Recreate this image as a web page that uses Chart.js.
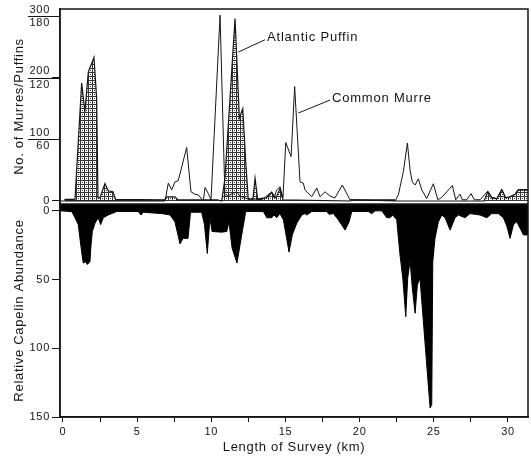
<!DOCTYPE html>
<html>
<head>
<meta charset="utf-8">
<script src="https://cdn.jsdelivr.net/npm/chart.js@4.4.1/dist/chart.umd.min.js"></script>
<style>
  html, body { margin: 0; padding: 0; background: #fff; }
  #wrap { position: relative; width: 531px; height: 460px; }
  #top { position: absolute; left: 0; top: 0; width: 531px; height: 204px; }
  #bot { position: absolute; left: 0; top: 204px; width: 531px; height: 256px; }
</style>
</head>
<body>
<div id="wrap">
  <div id="top"><canvas id="birds"></canvas></div>
  <div id="bot"><canvas id="capelin"></canvas></div>
</div>
<script>
// survey distance (km) and counts
const murreKm = [-0.2, 6.88, 7.10, 7.33, 7.55, 7.77, 8.34, 8.63, 8.90, 9.12, 9.46, 9.58, 9.80, 9.98, 10.59, 10.92, 11.26, 11.71, 11.94, 12.49,
  12.95, 13.42, 14.07, 14.23, 14.41, 14.63, 14.83, 15.02, 15.38, 15.62, 15.98, 16.20, 16.32, 16.77, 17.11, 17.33, 17.67, 18.00, 18.34, 18.83,
  19.35, 22.39, 22.61, 22.95, 23.22, 23.40, 23.55, 23.74, 23.96, 24.19, 24.52, 24.97, 25.27, 25.54, 26.25, 26.48, 26.77, 26.92, 27.22, 27.51,
  27.73, 28.12, 28.64, 28.91, 29.25, 29.58, 29.85, 30.14, 30.48, 30.70, 31.35];
const murreCount = [0, 0, 29, 18, 31, 33, 87, 15, 11, 10, 0, 22, 12, 2, 302, 7, 10, 15, 8, 3,
  3, 2, 15, 5, 18, 23, 5, 95, 72, 186, 31, 29, 18, 7, 21, 7, 15, 8, 5, 26,
  2, 0, 10, 48, 94, 50, 31, 26, 36, 18, 4, 28, 2, 6, 25, 2, 11, 2, 2, 12,
  2, 2, 16, 6, 4, 19, 5, 7, 11, 18, 18];

const puffinKm = [0.10, 0.81, 1.26, 1.48, 1.71, 2.09, 2.27, 2.36, 2.49, 2.83, 3.05, 3.37, 3.55, 6.85, 7.00, 7.55, 7.75, 10.40, 10.70, 10.92,
  11.60, 11.89, 12.12, 12.32, 12.49, 12.81, 12.95, 13.12, 13.69, 14.09, 14.36, 14.63, 14.83, 19.35, 19.40, 22.35, 22.40, 28.39, 28.64, 28.91,
  29.25, 29.58, 29.85, 30.14, 30.48, 30.70, 31.35];
const puffinCount = [1.5, 1.5, 115, 87, 126, 140, 100, 3, 3, 17, 10, 9, 1.5, 1, 4, 4, 1, 1, 0, 22,
  178, 81, 90, 38, 2, 2, 22, 2, 3, 8, 3, 12, 1, 0, 1.2, 1.2, 0, 0, 9, 3,
  2, 11, 3, 4, 6.6, 11, 11];

const capelinKm = [-0.2, 0.59, 0.81, 1.03, 1.26, 1.37, 1.53, 1.64, 1.82, 1.89,
  1.98, 2.16, 2.38, 2.54, 2.72, 3.05, 3.62, 5.08, 5.26, 5.41,
  6.66, 7.22, 7.55, 7.89, 8.09, 8.43, 8.60, 9.35, 9.54, 9.73,
  9.91, 10.05, 10.70, 11.04, 11.19, 11.40, 11.73, 12.05, 12.32, 13.51,
  13.74, 14.07, 14.23, 14.41, 14.63, 14.86, 15.08, 15.24, 15.46, 15.76,
  16.10, 16.32, 16.43, 16.77, 17.78, 17.94, 18.23, 18.56, 19.02, 19.29,
  19.47, 20.59, 20.82, 21.04, 21.49, 21.83, 22.05, 22.23, 22.50, 22.72,
  22.91, 23.11, 23.24, 23.40, 23.55, 23.74, 23.89, 24.07, 24.75, 24.86,
  24.93, 25.08, 25.31, 25.54, 25.76, 26.10, 26.43, 26.66, 27.11, 27.44,
  28.12, 28.57, 28.91, 29.35, 29.69, 29.92, 30.14, 30.37, 30.59, 30.82,
  31.04, 31.35];
const capelinAbund = [0, 0.5, 5, 10, 30, 38, 37, 39, 37, 25,
  15, 9, 5, 10, 5, 3, 0.5, 0.5, 3, 1,
  2, 3, 8, 24, 20, 20, 1, 1, 10, 31,
  5, 15, 15.5, 15, 8, 27, 38, 17.5, 0.5, 0.5,
  5, 5, 3, 5, 2, 6.5, 20, 30, 17.5, 9,
  3, 2, 3, 0.5, 0.5, 2.5, 2, 6.5, 14, 8,
  0.5, 0.5, 2, 0, 0, 5, 5, 3, 6.5, 32,
  49, 77, 49, 36, 56, 74.5, 54, 49, 143.5, 141,
  37, 20, 8, 3, 5, 14, 5, 3, 5, 2,
  3, 5, 2, 2, 5, 11, 20, 10, 8, 12.6,
  17.5, 17.5];

const murreTicks = [0, 100, 200, 300];
const puffinTickLabels = ['0', '60', '120', '180'];
const capelinTicks = [0, 50, 100, 150];
const kmTicks = [0, 2.5, 5, 7.5, 10, 12.5, 15, 17.5, 20, 22.5, 25, 27.5, 30];

const kmMin = -0.2, kmMax = 31.35;
const birdMin = -4.9, birdMax = 312;
const puffinPerMurre = 180 / 300;
const capMin = -5, capMax = 150;

const ink = '#151515';
const fontFamily = '"Liberation Sans", Arial, sans-serif';

function hatchPattern() {
  const c = document.createElement('canvas');
  c.width = 4; c.height = 4;
  const g = c.getContext('2d');
  g.fillStyle = '#fff';
  g.fillRect(0, 0, 4, 4);
  g.fillStyle = '#333';
  g.fillRect(0, 0, 4, 1);
  g.fillRect(0, 0, 1, 4);
  g.fillRect(2, 2, 1, 1);
  return g.createPattern(c, 'repeat');
}

function pts(xs, ys) {
  return xs.map((x, i) => ({ x: x, y: ys[i] }));
}

// axes keep a fixed box so both panels line up and meet at the black band
function fixWidth(s) {
  s.width = 60;
  s.paddingTop = 0;
  s.paddingBottom = 0;
}
function fixHeight(s) {
  s.height = 43;
  s.paddingLeft = 0;
  s.paddingRight = 0;
}

// wider letter spacing like the lettering of the original
const spacing = {
  id: 'spacing',
  beforeDraw(chart) { chart.ctx.letterSpacing = '0.7px'; }
};

const frame = {
  id: 'frame',
  afterDraw(chart) {
    const a = chart.chartArea, ctx = chart.ctx;
    ctx.save();
    ctx.strokeStyle = ink;
    ctx.lineWidth = 1.5;
    ctx.strokeRect(a.left, a.top, a.right - a.left, a.bottom - a.top);
    ctx.restore();
  }
};

// rule between murre and puffin numbers on the left axis
const fractionRule = {
  id: 'fractionRule',
  afterDraw(chart) {
    const s = chart.scales.y, ctx = chart.ctx;
    ctx.save();
    ctx.strokeStyle = ink;
    ctx.lineWidth = 1;
    murreTicks.forEach(v => {
      if (v === 0) return;
      const y = Math.round(s.getPixelForValue(v)) + 0.5;
      ctx.beginPath();
      ctx.moveTo(28, y);
      ctx.lineTo(s.right, y);
      ctx.stroke();
    });
    ctx.restore();
  }
};

const notes = [
  { text: 'Atlantic Puffin', from: [11.82, 242], to: [13.62, 262] },
  { text: 'Common Murre', from: [15.87, 143], to: [18.0, 164] }
];

const speciesLabels = {
  id: 'speciesLabels',
  afterDatasetsDraw(chart) {
    const x = chart.scales.x, y = chart.scales.y, ctx = chart.ctx;
    ctx.save();
    ctx.strokeStyle = ink;
    ctx.fillStyle = ink;
    ctx.lineWidth = 1;
    ctx.font = '13px ' + fontFamily;
    ctx.letterSpacing = '0.8px';
    ctx.textBaseline = 'middle';
    notes.forEach(n => {
      const x0 = x.getPixelForValue(n.from[0]), y0 = y.getPixelForValue(n.from[1]);
      const x1 = x.getPixelForValue(n.to[0]), y1 = y.getPixelForValue(n.to[1]);
      ctx.beginPath();
      ctx.moveTo(x0, y0);
      ctx.lineTo(x1, y1);
      ctx.stroke();
      ctx.fillText(n.text, x1 + 2, y1 - 2);
    });
    ctx.restore();
  }
};

Chart.defaults.font.family = fontFamily;
Chart.defaults.color = ink;

new Chart(document.getElementById('birds'), {
  type: 'line',
  data: {
    datasets: [
      {
        label: 'Common Murre',
        data: pts(murreKm, murreCount),
        yAxisID: 'y',
        borderColor: ink,
        borderWidth: 1,
        pointRadius: 0,
        tension: 0,
        fill: false
      },
      {
        label: 'Atlantic Puffin',
        data: pts(puffinKm, puffinCount),
        yAxisID: 'yp',
        borderColor: ink,
        borderWidth: 1.2,
        backgroundColor: hatchPattern(),
        pointRadius: 0,
        tension: 0,
        fill: 'origin'
      }
    ]
  },
  options: {
    responsive: true,
    maintainAspectRatio: false,
    animation: false,
    layout: { padding: { top: 9, right: 3, left: 0, bottom: 0 } },
    plugins: { legend: { display: false }, tooltip: { enabled: false } },
    scales: {
      x: { type: 'linear', min: kmMin, max: kmMax, display: false },
      y: {
        min: birdMin,
        max: birdMax,
        afterFit: fixWidth,
        afterBuildTicks: s => { s.ticks = murreTicks.map(v => ({ value: v })); },
        ticks: {
          callback: (v, i) => v === 0 ? '0' : [String(v), puffinTickLabels[i]],
          font: { size: 11 },
          padding: 2
        },
        grid: { drawOnChartArea: false, tickLength: 8, color: ink },
        border: { color: ink, width: 1.5 },
        title: { display: true, text: 'No. of Murres/Puffins', font: { size: 13 }, padding: { top: 12, bottom: 0 } }
      },
      yp: {
        display: false,
        min: birdMin * puffinPerMurre,
        max: birdMax * puffinPerMurre
      }
    }
  },
  plugins: [spacing, frame, fractionRule, speciesLabels]
});

new Chart(document.getElementById('capelin'), {
  type: 'line',
  data: {
    datasets: [{
      label: 'Relative Capelin Abundance',
      data: pts(capelinKm, capelinAbund),
      borderColor: '#000',
      borderWidth: 1,
      backgroundColor: '#000',
      pointRadius: 0,
      tension: 0,
      fill: { value: capMin }
    }]
  },
  options: {
    responsive: true,
    maintainAspectRatio: false,
    animation: false,
    layout: { padding: { top: 0, right: 3, left: 0, bottom: 0 } },
    plugins: { legend: { display: false }, tooltip: { enabled: false } },
    scales: {
      x: {
        type: 'linear',
        min: kmMin,
        max: kmMax,
        afterFit: fixHeight,
        afterBuildTicks: s => { s.ticks = kmTicks.map(v => ({ value: v })); },
        ticks: {
          callback: v => (v % 5 === 0 ? String(v) : ''),
          autoSkip: false,
          maxRotation: 0,
          font: { size: 11 },
          padding: 3
        },
        grid: { drawOnChartArea: false, tickLength: 5, color: ink },
        border: { color: ink, width: 1.5 },
        title: { display: true, text: 'Length of Survey (km)', font: { size: 13 }, padding: { top: 4, bottom: 5 } }
      },
      y: {
        reverse: true,
        min: capMin,
        max: capMax,
        afterFit: fixWidth,
        afterBuildTicks: s => { s.ticks = capelinTicks.map(v => ({ value: v })); },
        ticks: { font: { size: 11 }, padding: 2 },
        grid: { drawOnChartArea: false, tickLength: 8, color: ink },
        border: { color: ink, width: 1.5 },
        title: { display: true, text: 'Relative Capelin Abundance', font: { size: 13 }, padding: { top: 12, bottom: 0 } }
      }
    }
  },
  plugins: [spacing, frame]
});
</script>
</body>
</html>
